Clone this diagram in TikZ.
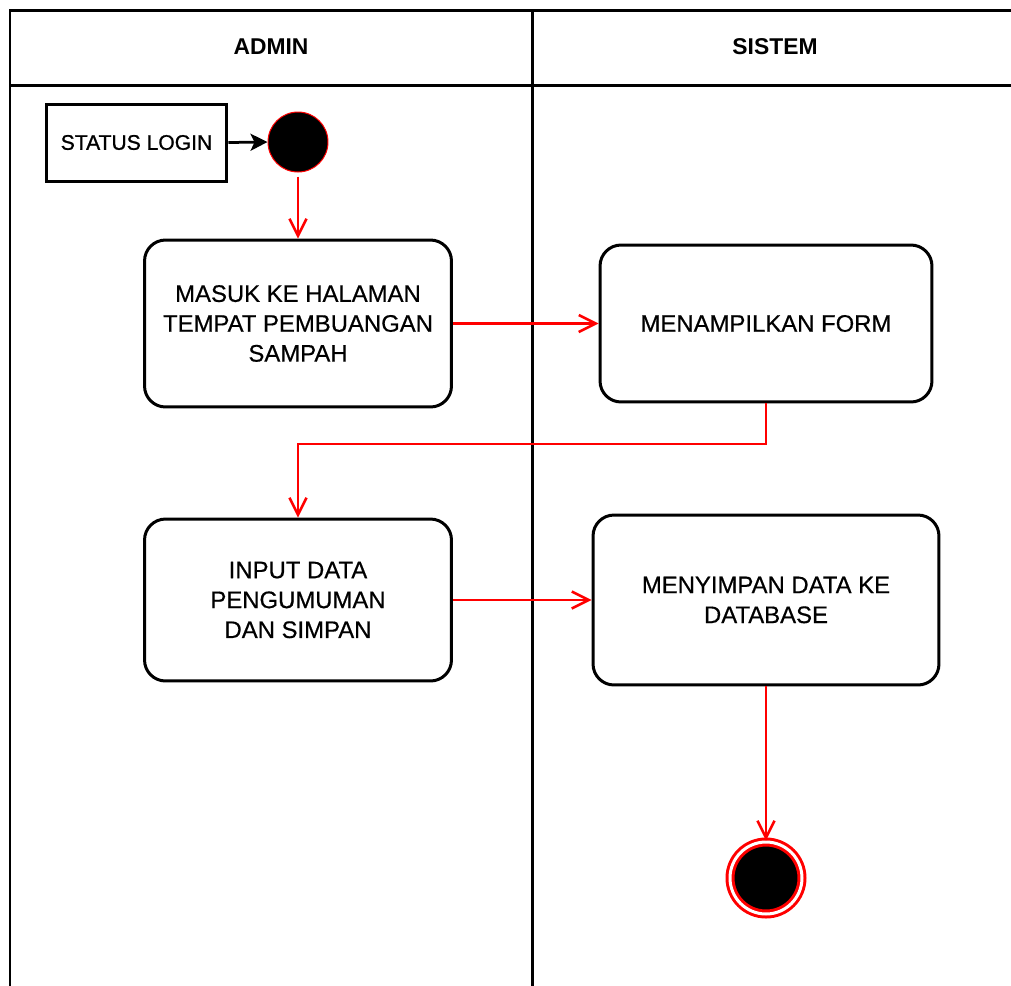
\documentclass[tikz,border=0pt]{standalone}
\usepackage{fontspec}
\setmainfont{Liberation Sans}
\newfontfamily\medfont[FakeBold=0.5]{Liberation Sans}
\newfontfamily\semifont[FakeBold=1.0]{Liberation Sans}
\usetikzlibrary{arrows.meta,shapes.geometric}
\begin{document}
\begin{tikzpicture}[x=0.02cm,y=-0.02cm,
  lane/.style={line width=0.06cm,draw=black},
  act/.style={draw=black,line width=0.06cm,rounded corners=0.42cm,align=center,
    font=\medfont\fontsize{13.6pt}{17pt}\selectfont,inner sep=0pt},
  flow/.style={draw=red,line width=0.055cm,-{Straight Barb[length=0.34cm,width=0.34cm,line width=0.05cm]}},
  head/.style={font=\fontsize{13pt}{15pt}\selectfont\bfseries}]
\useasboundingbox (0,0) rectangle (1011,985);

% swimlane frame
\draw[lane] (10,1000) -- (10,10) -- (1030,10);
\draw[lane] (10,85) -- (1030,85);
\draw[lane] (532,10) -- (532,1000);
\node[head] (hadmin) at (271,47) {ADMIN};
\node[head] (hsistem) at (775,47) {SISTEM};

% start and precondition
\node[draw=black,line width=0.06cm,minimum width=3.62cm,minimum height=1.54cm,inner sep=0pt,
  font=\semifont\fontsize{12pt}{14pt}\selectfont] (status) at (136.5,142.5) {STATUS LOGIN};
\node[circle,fill=black,draw=red,line width=0.02cm,minimum size=1.2cm,inner sep=0pt] (start) at (298,142) {};

% activities
\node[act,minimum width=6.14cm,minimum height=3.34cm] (b1) at (298,323.5) {MASUK KE HALAMAN\\TEMPAT PEMBUANGAN\\SAMPAH};
\node[act,minimum width=6.64cm,minimum height=3.14cm] (b2) at (766,323.5) {MENAMPILKAN FORM};
\node[act,minimum width=6.14cm,minimum height=3.24cm] (b3) at (298,600) {INPUT DATA\\PENGUMUMAN\\DAN SIMPAN};
\node[act,minimum width=6.92cm,minimum height=3.4cm] (b4) at (766,600) {MENYIMPAN DATA KE\\DATABASE};

% end
\node[circle,fill=black,draw=red,double=white,line width=0.06cm,double distance=0.06cm,
  minimum size=1.44cm,inner sep=0pt] (stop) at (766,878) {};

\coordinate (turn) at (766,444);

% connectors
\draw[line width=0.055cm,-{Stealth[length=0.34cm,width=0.34cm,inset=0.08cm]}] (status.east) -- (start.west);
\draw[flow] ([yshift=-0.08cm]start.south) -- (b1.north);
\draw[flow] (b1.east) -- (b2.west);
\draw[flow] (b2.south) -- (b2.south |- turn) -| (b3.north);
\draw[flow] (b3.east) -- (b4.west);
\draw[flow] (b4.south) -- (stop.north);
\end{tikzpicture}
\end{document}
